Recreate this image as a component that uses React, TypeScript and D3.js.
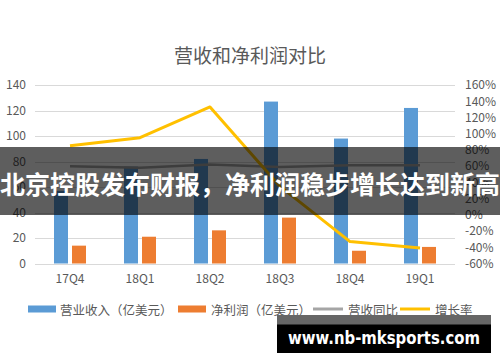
import { useEffect, useRef } from "react";
import * as d3 from "d3";

const quarters = ["17Q4", "18Q1", "18Q2", "18Q3", "18Q4", "19Q1"];
const revenue = [57, 76, 82, 127, 98, 122];
const netProfit = [14, 21, 26, 36, 10, 13];
const revenueYoY = [0.6, 0.58, 0.62, 0.59, 0.61, 0.61];
const growthRate = [0.85, 0.95, 1.33, 0.35, -0.33, -0.41];
const leftTicks = [0, 20, 40, 60, 80, 100, 120, 140];
const rightTicks = [-0.6, -0.4, -0.2, 0, 0.2, 0.4, 0.6, 0.8, 1.0, 1.2, 1.4, 1.6];

const seriesNames = ["营业收入（亿美元）", "净利润（亿美元）", "营收同比", "增长率"];
const chartTitle = "营收和净利润对比";
const bannerText = "北京控股发布财报，净利润稳步增长达到新高";
const watermark = "www.nb-mksports.com";

const COLORS = {
  blue: "#5B9BD5",
  orange: "#ED7D31",
  gray: "#A5A5A5",
  yellow: "#FFC000",
  text: "#595959",
  grid: "#D9D9D9",
};

const FONT = "'Noto Sans CJK SC', 'Noto Sans', sans-serif";

export default function App() {
  const svgRef = useRef<SVGSVGElement>(null);

  useEffect(() => {
    if (!svgRef.current) return;
    const width = 500;
    const height = 362;
    const plot = { left: 35, right: 455, top: 85, bottom: 263.5 };

    const svg = d3.select(svgRef.current);
    svg.selectAll("*").remove();

    svg.append("rect").attr("width", width).attr("height", height).attr("fill", "#fff");

    const x = d3.scaleBand().domain(quarters).range([plot.left, plot.right]).padding(0);
    const sub = d3
      .scaleBand()
      .domain(["rev", "profit"])
      .range([0, 32])
      .paddingInner(4 / 18);
    const groupOffset = (x.bandwidth() - 32) / 2;
    const cx = (q: string) => x(q)! + x.bandwidth() / 2;

    const yL = d3.scaleLinear().domain([0, 140]).range([plot.bottom, plot.top]);
    const yR = d3.scaleLinear().domain([-0.6, 1.6]).range([plot.bottom, plot.top]);

    // Title
    svg
      .append("text")
      .attr("x", width / 2)
      .attr("y", 54)
      .attr("text-anchor", "middle")
      .attr("dominant-baseline", "central")
      .attr("font-family", FONT)
      .attr("font-size", 19)
      .attr("fill", COLORS.text)
      .text(chartTitle);

    // Grid
    const g = svg.append("g");
    g.selectAll("line.grid")
      .data(leftTicks)
      .join("line")
      .attr("x1", plot.left)
      .attr("x2", plot.right)
      .attr("y1", (d) => Math.round(yL(d)) + 0.5)
      .attr("y2", (d) => Math.round(yL(d)) + 0.5)
      .attr("stroke", COLORS.grid)
      .attr("stroke-width", 1);

    // Left axis
    const left = svg
      .append("g")
      .attr("transform", `translate(26,0)`)
      .call(d3.axisLeft(yL).tickValues(leftTicks).tickSize(0).tickPadding(0));
    left.select(".domain").remove();
    left
      .selectAll("text")
      .attr("font-family", FONT)
      .attr("font-size", 12)
      .attr("fill", COLORS.text);

    // Right axis
    const right = svg
      .append("g")
      .attr("transform", `translate(465,0)`)
      .call(
        d3
          .axisRight(yR)
          .tickValues(rightTicks)
          .tickSize(0)
          .tickPadding(0)
          .tickFormat((d) => `${Math.round((d as number) * 100)}%`)
      );
    right.select(".domain").remove();
    right
      .selectAll("text")
      .attr("font-family", FONT)
      .attr("font-size", 12)
      .attr("fill", COLORS.text);

    // Bottom axis
    const bottom = svg
      .append("g")
      .attr("transform", `translate(0,${plot.bottom})`)
      .call(d3.axisBottom(x).tickSize(0).tickPadding(11));
    bottom.select(".domain").remove();
    bottom
      .selectAll("text")
      .attr("font-family", FONT)
      .attr("font-size", 12)
      .attr("fill", COLORS.text);

    // Bars
    quarters.forEach((q, i) => {
      svg
        .append("rect")
        .attr("x", x(q)! + groupOffset + sub("rev")!)
        .attr("width", sub.bandwidth())
        .attr("y", yL(revenue[i]))
        .attr("height", yL(0) - yL(revenue[i]))
        .attr("fill", COLORS.blue);
      svg
        .append("rect")
        .attr("x", x(q)! + groupOffset + sub("profit")!)
        .attr("width", sub.bandwidth())
        .attr("y", yL(netProfit[i]))
        .attr("height", yL(0) - yL(netProfit[i]))
        .attr("fill", COLORS.orange);
    });

    // Lines
    const line = d3
      .line<number>()
      .x((_, i) => cx(quarters[i]))
      .y((d) => yR(d));

    svg
      .append("path")
      .datum(revenueYoY)
      .attr("fill", "none")
      .attr("stroke", COLORS.gray)
      .attr("stroke-width", 2.5)
      .attr("stroke-linejoin", "round")
      .attr("d", line);

    svg
      .append("path")
      .datum(growthRate)
      .attr("fill", "none")
      .attr("stroke", COLORS.yellow)
      .attr("stroke-width", 3)
      .attr("stroke-linejoin", "round")
      .attr("d", line);

    // Legend
    const legendY = 309;
    const legend = svg.append("g").attr("font-family", FONT).attr("font-size", 12.5).attr("fill", COLORS.text);
    const items = [
      { kind: "rect", color: COLORS.blue, x0: 28, tx: 60 },
      { kind: "rect", color: COLORS.orange, x0: 178, tx: 211 },
      { kind: "line", color: COLORS.gray, x0: 313, tx: 348 },
      { kind: "line", color: COLORS.yellow, x0: 400, tx: 435 },
    ];
    items.forEach((it, i) => {
      if (it.kind === "rect") {
        legend
          .append("rect")
          .attr("x", it.x0)
          .attr("y", legendY - 3.5)
          .attr("width", 28)
          .attr("height", 7)
          .attr("fill", it.color);
      } else {
        legend
          .append("line")
          .attr("x1", it.x0)
          .attr("x2", it.x0 + 30)
          .attr("y1", legendY)
          .attr("y2", legendY)
          .attr("stroke", it.color)
          .attr("stroke-width", 3);
      }
      legend
        .append("text")
        .attr("x", it.tx)
        .attr("y", legendY)
        .attr("dominant-baseline", "central")
        .text(seriesNames[i]);
    });

    // Banner overlay
    svg
      .append("rect")
      .attr("x", 0)
      .attr("y", 147)
      .attr("width", width)
      .attr("height", 68)
      .attr("fill", "rgba(0,0,0,0.63)");
    svg
      .append("text")
      .attr("x", 0)
      .attr("y", 183)
      .attr("dominant-baseline", "central")
      .attr("font-family", "'Noto Sans CJK SC', sans-serif")
      .attr("font-weight", 700)
      .attr("font-size", 25)
      .attr("fill", "#fff")
      .attr("textLength", 500)
      .attr("lengthAdjust", "spacingAndGlyphs")
      .text(bannerText);

    // Watermark
    svg.append("rect").attr("x", 277).attr("y", 315).attr("width", 214).attr("height", 10).attr("fill", "#666");
    svg.append("rect").attr("x", 277).attr("y", 324.5).attr("width", 214).attr("height", 28.5).attr("fill", "#000");
    svg
      .append("text")
      .attr("x", 288)
      .attr("y", 338)
      .attr("dominant-baseline", "central")
      .attr("font-family", "'DejaVu Sans', sans-serif")
      .attr("font-weight", 700)
      .attr("font-size", 17)
      .attr("fill", "#fff")
      .attr("textLength", 192)
      .attr("lengthAdjust", "spacingAndGlyphs")
      .text(watermark);
  }, []);

  return (
    <div style={{ position: "absolute", left: 0, top: 0 }}>
      <svg ref={svgRef} width={500} height={362} style={{ display: "block" }} />
    </div>
  );
}
